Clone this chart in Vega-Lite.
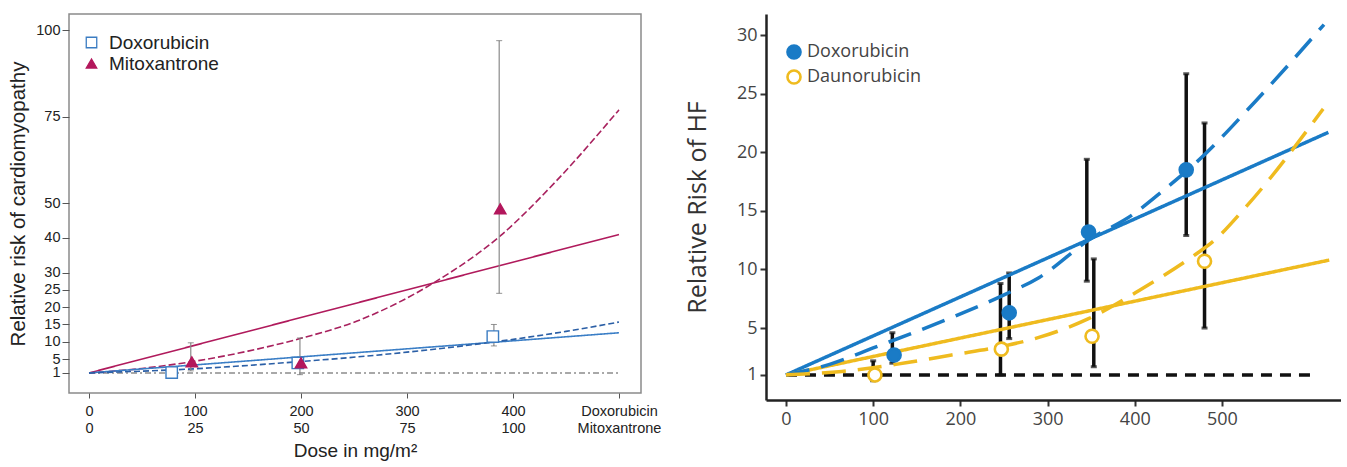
{
  "$schema": "https://vega.github.io/schema/vega-lite/v6.json",
  "padding": {"left": 8, "top": 13, "right": 0, "bottom": 0},
  "autosize": {"type": "pad"},
  "spacing": 23,
  "resolve": {
    "scale": {"color": "independent", "strokeDash": "independent", "fill": "independent", "stroke": "independent", "shape": "independent", "x": "independent", "y": "independent"},
    "legend": {"fill": "independent", "stroke": "independent", "shape": "independent"}
  },
  "config": {
    "font": "Liberation Sans",
    "view": {"stroke": null},
    "axis": {"grid": false, "labelOverlap": false, "titleFontWeight": "normal"}
  },
  "datasets": {
    "left_lines": [
      {"series": "base", "dose": 0, "rr": 1}, {"series": "base", "dose": 500, "rr": 1},
      {"series": "mito_lin", "dose": 0, "rr": 1}, {"series": "mito_lin", "dose": 500, "rr": 41},
      {"series": "mito_exp", "dose": 0, "rr": 1}, {"series": "mito_exp", "dose": 50, "rr": 2.3},
      {"series": "mito_exp", "dose": 100, "rr": 4.4}, {"series": "mito_exp", "dose": 150, "rr": 7.3},
      {"series": "mito_exp", "dose": 200, "rr": 11}, {"series": "mito_exp", "dose": 253, "rr": 16},
      {"series": "mito_exp", "dose": 325, "rr": 27}, {"series": "mito_exp", "dose": 388, "rr": 40.6},
      {"series": "mito_exp", "dose": 441, "rr": 56.5}, {"series": "mito_exp", "dose": 500, "rr": 77},
      {"series": "doxo_lin", "dose": 0, "rr": 1}, {"series": "doxo_lin", "dose": 500, "rr": 12.6},
      {"series": "doxo_exp", "dose": 0, "rr": 1}, {"series": "doxo_exp", "dose": 100, "rr": 2.2},
      {"series": "doxo_exp", "dose": 200, "rr": 4.3}, {"series": "doxo_exp", "dose": 237, "rr": 5.2},
      {"series": "doxo_exp", "dose": 300, "rr": 7.0}, {"series": "doxo_exp", "dose": 388, "rr": 10.2},
      {"series": "doxo_exp", "dose": 450, "rr": 13}, {"series": "doxo_exp", "dose": 500, "rr": 15.7}
    ],
    "left_pts": [
      {"drug": "Doxorubicin", "dose": 78, "rr": 1.1},
      {"drug": "Doxorubicin", "dose": 197, "rr": 3.9},
      {"drug": "Doxorubicin", "dose": 381, "rr": 11.5},
      {"drug": "Mitoxantrone", "dose": 97, "rr": 4.2},
      {"drug": "Mitoxantrone", "dose": 200, "rr": 3.9},
      {"drug": "Mitoxantrone", "dose": 388, "rr": 48.4}
    ],
    "left_err": [
      {"dose": 96, "lo": 1.6, "hi": 9.7},
      {"dose": 199, "lo": 0.5, "hi": 11.1},
      {"dose": 387, "lo": 24, "hi": 97},
      {"dose": 382, "lo": 8.8, "hi": 15.0}
    ],
    "right_lines": [
      {"series": "base", "dose": 0, "rr": 1}, {"series": "base", "dose": 610, "rr": 1},
      {"series": "doxo_lin", "dose": 0, "rr": 1}, {"series": "doxo_lin", "dose": 622, "rr": 21.7},
      {"series": "dauno_lin", "dose": 0, "rr": 1}, {"series": "dauno_lin", "dose": 623, "rr": 10.8},
      {"series": "doxo_exp", "dose": 0, "rr": 1}, {"series": "doxo_exp", "dose": 50, "rr": 1.9},
      {"series": "doxo_exp", "dose": 100, "rr": 3.3}, {"series": "doxo_exp", "dose": 190, "rr": 5.9},
      {"series": "doxo_exp", "dose": 252, "rr": 7.9}, {"series": "doxo_exp", "dose": 290, "rr": 9.3},
      {"series": "doxo_exp", "dose": 347, "rr": 12.5}, {"series": "doxo_exp", "dose": 398, "rr": 14.7},
      {"series": "doxo_exp", "dose": 432, "rr": 16.7}, {"series": "doxo_exp", "dose": 470, "rr": 19.1},
      {"series": "doxo_exp", "dose": 539, "rr": 24.4}, {"series": "doxo_exp", "dose": 617, "rr": 30.9},
      {"series": "dauno_exp", "dose": 0, "rr": 1}, {"series": "dauno_exp", "dose": 64, "rr": 1.3},
      {"series": "dauno_exp", "dose": 126, "rr": 1.9}, {"series": "dauno_exp", "dose": 190, "rr": 2.7},
      {"series": "dauno_exp", "dose": 252, "rr": 3.5}, {"series": "dauno_exp", "dose": 290, "rr": 4.2},
      {"series": "dauno_exp", "dose": 347, "rr": 5.8}, {"series": "dauno_exp", "dose": 405, "rr": 8.2},
      {"series": "dauno_exp", "dose": 470, "rr": 11.3}, {"series": "dauno_exp", "dose": 490, "rr": 12.4},
      {"series": "dauno_exp", "dose": 527, "rr": 15.3}, {"series": "dauno_exp", "dose": 616, "rr": 23.7}
    ],
    "right_pts": [
      {"drug": "Doxorubicin", "dose": 124, "rr": 2.7},
      {"drug": "Doxorubicin", "dose": 256, "rr": 6.3},
      {"drug": "Doxorubicin", "dose": 347, "rr": 13.2},
      {"drug": "Doxorubicin", "dose": 459, "rr": 18.5},
      {"drug": "Daunorubicin", "dose": 102, "rr": 1.0},
      {"drug": "Daunorubicin", "dose": 247, "rr": 3.2},
      {"drug": "Daunorubicin", "dose": 351, "rr": 4.3},
      {"drug": "Daunorubicin", "dose": 480, "rr": 10.7}
    ],
    "right_err": [
      {"dose": 100, "lo": 0.5, "hi": 2.2},
      {"dose": 122, "lo": 2.0, "hi": 4.6},
      {"dose": 246, "lo": 1.0, "hi": 8.8},
      {"dose": 256, "lo": 4.1, "hi": 9.7},
      {"dose": 345, "lo": 9.0, "hi": 19.4},
      {"dose": 353, "lo": 1.7, "hi": 10.9},
      {"dose": 459, "lo": 12.9, "hi": 26.7},
      {"dose": 480, "lo": 5.0, "hi": 22.5}
    ]
  },
  "hconcat": [
    {
      "width": 572,
      "height": 379,
      "view": {"stroke": "#8a8a8a", "strokeWidth": 1.5},
      "layer": [
        {
          "data": {"name": "left_lines"},
          "mark": {"type": "line", "strokeWidth": 1.6, "interpolate": "monotone"},
          "encoding": {
            "x": {
              "field": "dose", "type": "quantitative", "title": "Dose in mg/m²",
              "scale": {"domain": [-18.9, 520.8], "nice": false, "zero": false},
              "axis": {
                "values": [0, 100, 200, 300, 400, 500], "tickCount": 20,
                "labelExpr": "datum.value == 500 ? ['Doxorubicin', 'Mitoxantrone'] : [datum.label, format(datum.value / 4, 'd')]",
                "domain": false, "tickColor": "#555", "tickSize": 5, "labelOverlap": false,
                "labelFontSize": 14.5, "labelColor": "#222", "labelPadding": 6, "labelLineHeight": 17,
                "titleFontSize": 19, "titleColor": "#222", "titlePadding": 7
              }
            },
            "y": {
              "field": "rr", "type": "quantitative", "title": "Relative risk of cardiomyopathy",
              "scale": {"domain": [-4.8, 104.7], "nice": false, "zero": false},
              "axis": {
                "values": [1, 5, 10, 15, 20, 25, 30, 40, 50, 75, 100], "tickCount": 20,
                "domain": false, "tickColor": "#555", "tickSize": 7, "labelOverlap": false,
                "labelFontSize": 14.5, "labelColor": "#222", "labelPadding": 2,
                "titleFontSize": 20.5, "titleColor": "#222", "titlePadding": 7
              }
            },
            "detail": {"field": "series"},
            "color": {
              "field": "series", "legend": null,
              "scale": {"domain": ["base", "mito_lin", "mito_exp", "doxo_lin", "doxo_exp"],
                        "range": ["#8c8c8c", "#b01a5c", "#a8215e", "#3a7ec6", "#2b5fa6"]}
            },
            "strokeDash": {
              "field": "series", "legend": null,
              "scale": {"domain": ["base", "mito_lin", "mito_exp", "doxo_lin", "doxo_exp"],
                        "range": [[6, 3, 2, 3], [1, 0], [7, 3], [1, 0], [6, 3]]}
            }
          }
        },
        {
          "data": {"name": "left_err"},
          "mark": {"type": "rule", "color": "#8a8a8a", "strokeWidth": 1.2},
          "encoding": {
            "x": {"field": "dose", "type": "quantitative", "title": "Dose in mg/m²"},
            "y": {"field": "lo", "type": "quantitative", "title": "Relative risk of cardiomyopathy"},
            "y2": {"field": "hi"}
          }
        },
        {
          "data": {"name": "left_err"},
          "mark": {"type": "tick", "orient": "horizontal", "color": "#666", "size": 6, "thickness": 1},
          "encoding": {
            "x": {"field": "dose", "type": "quantitative", "title": "Dose in mg/m²"},
            "y": {"field": "hi", "type": "quantitative", "title": "Relative risk of cardiomyopathy"}
          }
        },
        {
          "data": {"name": "left_err"},
          "mark": {"type": "tick", "orient": "horizontal", "color": "#666", "size": 6, "thickness": 1},
          "encoding": {
            "x": {"field": "dose", "type": "quantitative", "title": "Dose in mg/m²"},
            "y": {"field": "lo", "type": "quantitative", "title": "Relative risk of cardiomyopathy"}
          }
        },
        {
          "data": {"name": "left_pts"},
          "mark": {"type": "point", "size": 130, "strokeWidth": 1.4, "opacity": 1},
          "encoding": {
            "x": {"field": "dose", "type": "quantitative", "title": "Dose in mg/m²"},
            "y": {"field": "rr", "type": "quantitative", "title": "Relative risk of cardiomyopathy"},
            "shape": {
              "field": "drug", "title": null,
              "scale": {"domain": ["Doxorubicin", "Mitoxantrone"], "range": ["square", "triangle-up"]},
              "legend": {
                "orient": "none", "legendX": 13, "legendY": 19,
                "labelFontSize": 19, "labelColor": "#222", "symbolSize": 110,
                "symbolStrokeWidth": 1.3, "rowPadding": 1, "labelOffset": 8
              }
            },
            "fill": {
              "field": "drug", "title": null,
              "scale": {"domain": ["Doxorubicin", "Mitoxantrone"], "range": ["#ffffff", "#b3175c"]}
            },
            "stroke": {
              "field": "drug", "title": null,
              "scale": {"domain": ["Doxorubicin", "Mitoxantrone"], "range": ["#3b7cc2", "#b3175c"]}
            }
          }
        }
      ]
    },
    {
      "width": 575,
      "height": 386,
      "layer": [
        {
          "data": {"name": "right_err"},
          "mark": {"type": "rule", "color": "#111", "strokeWidth": 3.5},
          "encoding": {
            "x": {
              "field": "dose", "type": "quantitative", "title": null,
              "scale": {"domain": [-22.9, 636.5], "nice": false, "zero": false},
              "axis": {
                "values": [0, 100, 200, 300, 400, 500], "tickCount": 20, "labelOverlap": false,
                "domainColor": "#222", "domainWidth": 2.5, "tickColor": "#333", "tickWidth": 2, "tickSize": 6,
                "labelFont": "Open Sans", "labelFontSize": 18, "labelColor": "#444", "labelPadding": 4
              }
            },
            "y": {
              "field": "lo", "type": "quantitative", "title": "Relative Risk of HF",
              "scale": {"domain": [-1.14, 31.8], "nice": false, "zero": false},
              "axis": {
                "values": [1, 5, 10, 15, 20, 25, 30], "tickCount": 20, "labelOverlap": false,
                "domainColor": "#222", "domainWidth": 2.5, "tickColor": "#333", "tickWidth": 2, "tickSize": 6,
                "labelFont": "Open Sans", "labelFontSize": 18, "labelColor": "#444", "labelPadding": 3,
                "titleFont": "Open Sans", "titleFontSize": 25, "titleColor": "#333", "titlePadding": 26
              }
            },
            "y2": {"field": "hi"}
          }
        },
        {
          "data": {"name": "right_err"},
          "mark": {"type": "tick", "orient": "horizontal", "color": "#111", "size": 6, "thickness": 3},
          "encoding": {
            "x": {"field": "dose", "type": "quantitative", "title": null},
            "y": {"field": "hi", "type": "quantitative", "title": "Relative Risk of HF"}
          }
        },
        {
          "data": {"name": "right_err"},
          "mark": {"type": "tick", "orient": "horizontal", "color": "#111", "size": 6, "thickness": 3},
          "encoding": {
            "x": {"field": "dose", "type": "quantitative", "title": null},
            "y": {"field": "lo", "type": "quantitative", "title": "Relative Risk of HF"}
          }
        },
        {
          "data": {"name": "right_lines"},
          "mark": {"type": "line", "strokeWidth": 3.5, "interpolate": "monotone"},
          "encoding": {
            "x": {"field": "dose", "type": "quantitative", "title": null},
            "y": {"field": "rr", "type": "quantitative", "title": "Relative Risk of HF"},
            "detail": {"field": "series"},
            "color": {
              "field": "series", "legend": null,
              "scale": {"domain": ["base", "doxo_lin", "doxo_exp", "dauno_lin", "dauno_exp"],
                        "range": ["#111111", "#1a7bc6", "#1a7bc6", "#efbb1f", "#efbb1f"]}
            },
            "strokeDash": {
              "field": "series", "legend": null,
              "scale": {"domain": ["base", "doxo_lin", "doxo_exp", "dauno_lin", "dauno_exp"],
                        "range": [[11, 8], [1, 0], [24, 12], [1, 0], [24, 12]]}
            }
          }
        },
        {
          "data": {"name": "right_pts"},
          "mark": {"type": "point", "shape": "circle", "size": 170, "strokeWidth": 2.6, "opacity": 1},
          "encoding": {
            "x": {"field": "dose", "type": "quantitative", "title": null},
            "y": {"field": "rr", "type": "quantitative", "title": "Relative Risk of HF"},
            "fill": {
              "field": "drug", "title": null,
              "scale": {"domain": ["Doxorubicin", "Daunorubicin"], "range": ["#1a7bc6", "#ffffff"]},
              "legend": {
                "orient": "none", "legendX": 19, "legendY": 29,
                "labelFont": "Open Sans", "labelFontSize": 18, "labelColor": "#444",
                "symbolSize": 170, "symbolStrokeWidth": 2.6, "rowPadding": 1, "labelOffset": 4
              }
            },
            "stroke": {
              "field": "drug", "title": null,
              "scale": {"domain": ["Doxorubicin", "Daunorubicin"], "range": ["#1a7bc6", "#efbb1f"]}
            }
          }
        }
      ]
    }
  ]
}
